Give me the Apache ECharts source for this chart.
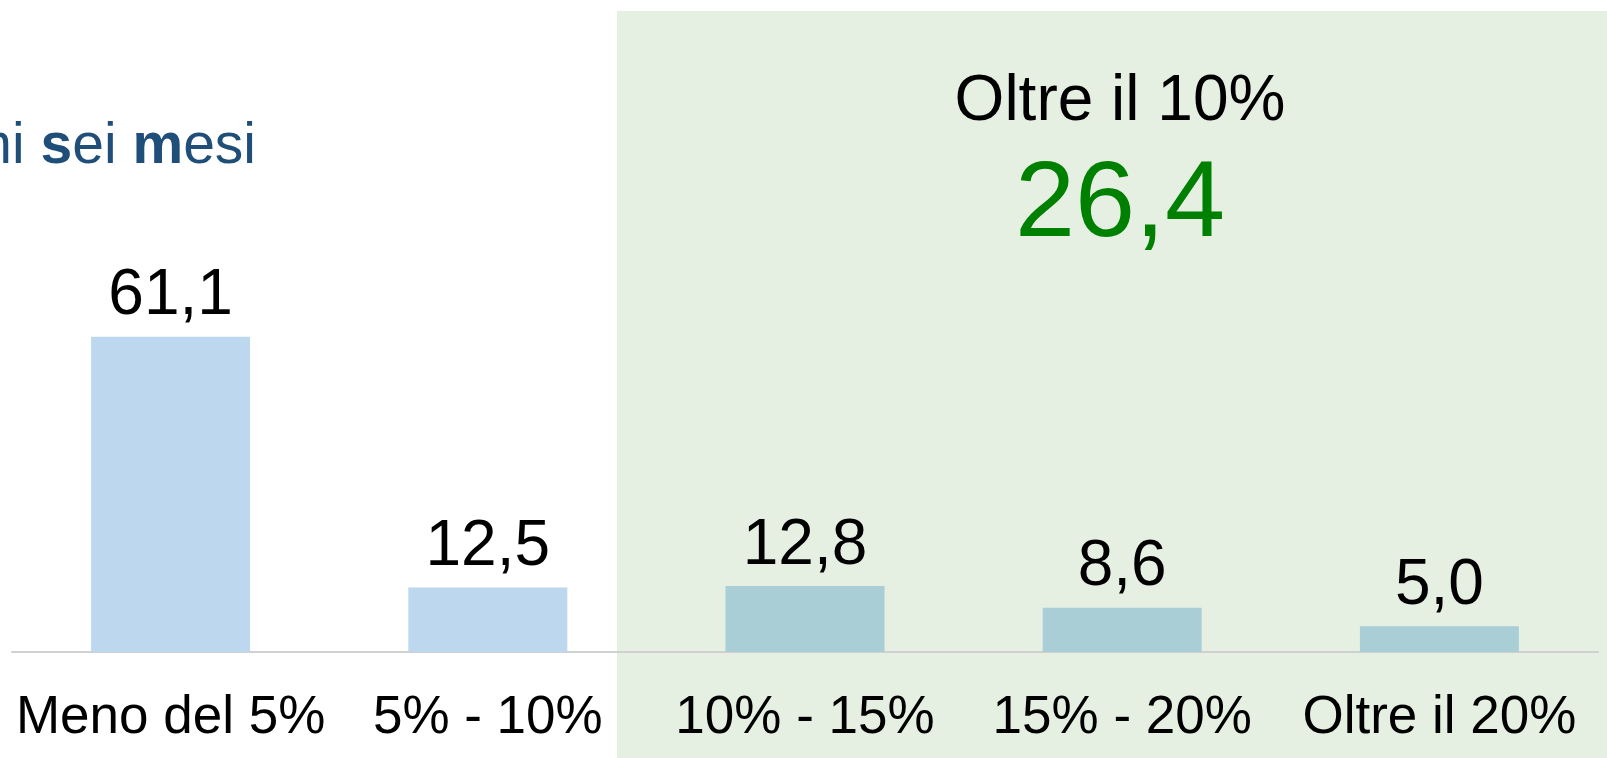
<!DOCTYPE html>
<html>
<head>
<meta charset="utf-8">
<script src="https://cdn.jsdelivr.net/npm/echarts@6/dist/echarts.min.js"></script>
<style>
html,body{margin:0;padding:0;background:#fff;}
#c{width:1607px;height:758px;}
</style>
</head>
<body>
<div id="c"></div>
<script>
var categories = ['Meno del 5%', '5% - 10%', '10% - 15%', '15% - 20%', 'Oltre il 20%'];
var values = [61.1, 12.5, 12.8, 8.6, 5.0];
var barColors = ['#BDD7EE', '#BDD7EE', '#A9CED6', '#A9CED6', '#A9CED6'];
var groupTitle = 'Oltre il 10%';
var groupValue = 26.4;

function fmt(v){ return v.toFixed(1).replace('.', ','); }

var FONT = "'Liberation Sans', Arial, sans-serif";
var chart = echarts.init(document.getElementById('c'));
chart.setOption({
  animation: false,
  backgroundColor: '#ffffff',
  grid: { left: 12, right: 9, top: 33, bottom: 106, containLabel: false },
  xAxis: {
    type: 'category',
    data: categories,
    axisLine: { lineStyle: { color: '#D0D0D0', width: 2 } },
    axisTick: { show: false },
    axisLabel: { interval: 0, margin: 40, color: '#000', fontSize: 53, fontFamily: FONT }
  },
  yAxis: {
    type: 'value', min: 0, max: 120,
    show: false, splitLine: { show: false }
  },
  series: [{
    type: 'bar',
    barWidth: 159,
    z: 2,
    data: values.map(function(v, i){ return { value: v, itemStyle: { color: barColors[i] } }; }),
    label: {
      show: true, position: 'top', distance: 8,
      color: '#000', fontSize: 64, fontFamily: FONT,
      formatter: function(p){ return fmt(p.value); }
    }
  }],
  graphic: [
    { type: 'rect', z: -100, silent: true,
      shape: { x: 617, y: 11, width: 990, height: 747 },
      style: { fill: '#E5F0E3' } },
    { type: 'text', z: 100, silent: true, x: 1120, y: 102,
      style: { text: groupTitle, fill: '#000', font: '64px ' + FONT, align: 'center', verticalAlign: 'middle' } },
    { type: 'text', z: 100, silent: true, x: 1120, y: 206,
      style: { text: fmt(groupValue), fill: '#008000', font: '108px ' + FONT, align: 'center', verticalAlign: 'middle' } },
    { type: 'text', z: 100, silent: true, x: 256, y: 147,
      style: {
        text: '{n|Prossimi }{b|s}{n|ei }{b|m}{n|esi}',
        align: 'right', verticalAlign: 'middle',
        rich: {
          n: { fill: '#1F4E79', font: '57px ' + FONT },
          b: { fill: '#1F4E79', font: 'bold 57px ' + FONT }
        }
      } }
  ]
});
</script>
</body>
</html>
